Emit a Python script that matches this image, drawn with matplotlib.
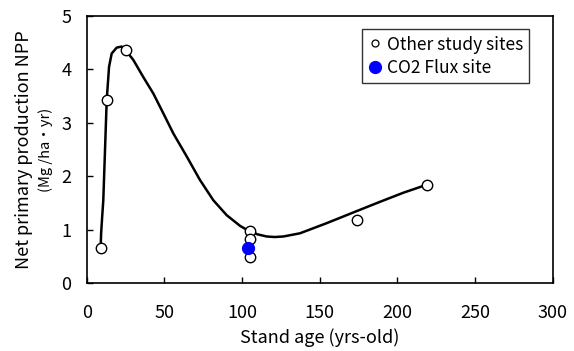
import numpy as np
import matplotlib.pyplot as plt

plt.rcParams['font.family'] = ['Noto Sans CJK JP', 'DejaVu Sans']

# study site observations
age = [9, 13, 25, 105, 105, 105, 174, 219]
npp = [0.65, 3.42, 4.36, 0.98, 0.83, 0.49, 1.18, 1.84]

# CO2 flux site
flux_age = [104]
flux_npp = [0.65]

# fitted curve
curve_age = [9.0, 9.3, 10.0, 10.7, 11.8, 12.9, 14.4, 16.1, 19.3, 22.5, 25.1,
             30.0, 36.4, 42.9, 49.3, 55.8, 64.4, 72.9, 81.5, 90.1, 98.7,
             104.0, 110.0, 115.9, 121.0, 126.6, 137.3, 154.5, 171.6, 188.8,
             203.8, 218.9]
curve_npp = [0.65, 0.93, 1.25, 1.55, 2.49, 3.43, 4.05, 4.30, 4.41, 4.43, 4.36,
             4.18, 3.86, 3.55, 3.18, 2.80, 2.37, 1.93, 1.55, 1.27, 1.07,
             0.98, 0.91, 0.87, 0.86, 0.87, 0.93, 1.12, 1.32, 1.52,
             1.69, 1.84]

fig = plt.figure(figsize=(5.74, 3.51), dpi=100)
ax = fig.add_axes([0.151, 0.194, 0.812, 0.760])

ax.plot(curve_age, curve_npp, color='k', linewidth=1.8, zorder=2,
        solid_joinstyle='round')
ax.plot(age, npp, 'o', color='k', markerfacecolor='white', markersize=7.5,
        markeredgewidth=1.0, linestyle='none', zorder=3)
ax.plot(flux_age, flux_npp, 'o', color='#0000ff', markersize=8.5,
        linestyle='none', zorder=4)

# legend handles (small markers as in the original)
h1, = ax.plot([], [], 'o', color='k', markerfacecolor='white', markersize=5,
              markeredgewidth=0.9, linestyle='none')
h2, = ax.plot([], [], 'o', color='#0000ff', markersize=8.5, linestyle='none')
leg = ax.legend([h1, h2], ['Other study sites', 'CO2 Flux site'],
                loc='upper right', bbox_to_anchor=(0.95, 0.95),
                fontsize=12.5, frameon=True, fancybox=False, edgecolor='k',
                handlelength=0.8, handletextpad=0.3, borderpad=0.35,
                labelspacing=0.3, borderaxespad=0)
leg.get_frame().set_linewidth(1.0)

ax.set_xlim(0, 300)
ax.set_ylim(0, 5)
ax.set_xticks(np.arange(0, 301, 50))
ax.set_yticks(np.arange(0, 6, 1))
ax.tick_params(direction='in', length=4, width=1, labelsize=13)
ax.tick_params(axis='x', pad=15)
ax.tick_params(axis='y', pad=11)
for s in ax.spines.values():
    s.set_linewidth(1.2)

ax.set_xlabel('Stand age (yrs-old)', fontsize=13, labelpad=5)
fig.text(0.042, 0.573, 'Net primary production NPP', rotation=90,
         ha='center', va='center', fontsize=13)
fig.text(0.080, 0.573, '(Mg /ha・yr)', rotation=90,
         ha='center', va='center', fontsize=10.5)

plt.savefig('out.png', dpi=100)
